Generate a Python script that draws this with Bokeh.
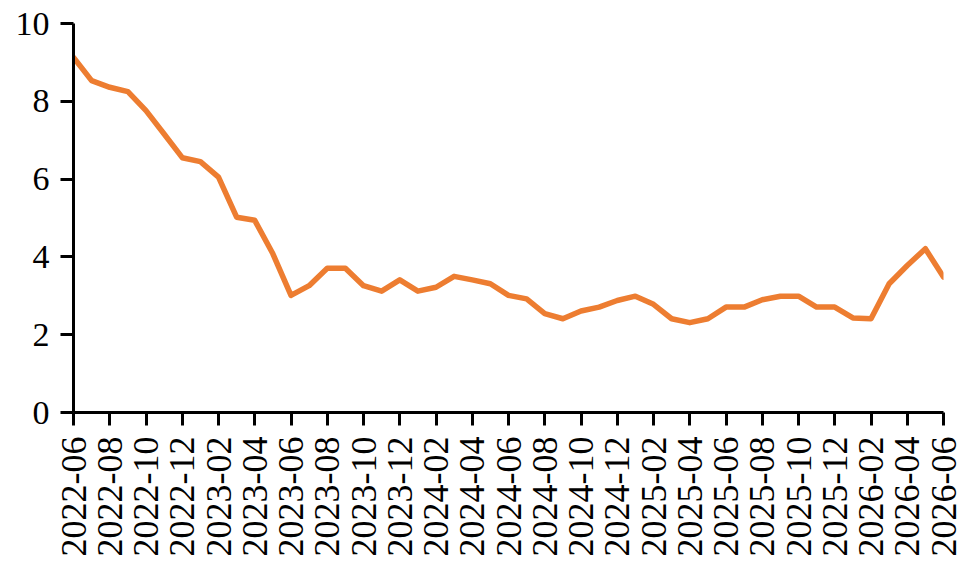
import math
from bokeh.plotting import figure
from bokeh.models import Range1d, FixedTicker
from bokeh.embed import file_html
from bokeh.resources import INLINE

# Monthly series 2022-06 .. 2026-06
months = [
    "2022-06", "2022-07", "2022-08", "2022-09", "2022-10", "2022-11", "2022-12",
    "2023-01", "2023-02", "2023-03", "2023-04", "2023-05", "2023-06", "2023-07",
    "2023-08", "2023-09", "2023-10", "2023-11", "2023-12", "2024-01", "2024-02",
    "2024-03", "2024-04", "2024-05", "2024-06", "2024-07", "2024-08", "2024-09",
    "2024-10", "2024-11", "2024-12", "2025-01", "2025-02", "2025-03", "2025-04",
    "2025-05", "2025-06", "2025-07", "2025-08", "2025-09", "2025-10", "2025-11",
    "2025-12", "2026-01", "2026-02", "2026-03", "2026-04", "2026-05", "2026-06",
]
values = [
    9.13, 8.53, 8.36, 8.25, 7.76, 7.16, 6.55,
    6.45, 6.05, 5.02, 4.94, 4.08, 3.01, 3.26,
    3.71, 3.71, 3.26, 3.12, 3.41, 3.12, 3.22,
    3.50, 3.41, 3.31, 3.01, 2.92, 2.54, 2.41,
    2.61, 2.71, 2.88, 2.99, 2.78, 2.41, 2.31,
    2.41, 2.71, 2.71, 2.90, 2.99, 2.99, 2.71,
    2.71, 2.43, 2.41, 3.31, 3.78, 4.21, 3.48,
]
y_ticks = [0, 2, 4, 6, 8, 10]

x = list(range(len(months)))
label_idx = x[::2]

FONT = "'Liberation Serif', 'Times New Roman', Times, serif"

p = figure(width=966, height=564, output_backend="svg", toolbar_location=None,
           x_range=Range1d(0, len(months) - 1), y_range=Range1d(0, 10),
           min_border_left=73, min_border_right=23, min_border_top=23,
           min_border_bottom=152)
p.outline_line_color = None
p.grid.grid_line_color = None
p.background_fill_color = "white"
p.border_fill_color = "white"

p.line(x, values, line_color="#ED7D31", line_width=5.5, line_join="round", line_cap="round")

p.xaxis.ticker = FixedTicker(ticks=label_idx)
p.xaxis.major_label_overrides = {i: months[i] for i in label_idx}
p.xaxis.major_label_orientation = math.pi / 2
p.yaxis.ticker = FixedTicker(ticks=y_ticks)

for ax in (p.xaxis[0], p.yaxis[0]):
    ax.axis_line_color = "black"
    ax.axis_line_width = 3
    ax.major_tick_line_color = "black"
    ax.major_tick_line_width = 3
    ax.major_tick_out = 13
    ax.major_tick_in = 0
    ax.minor_tick_line_color = None
    ax.major_label_text_font = FONT
    ax.major_label_text_color = "black"
    ax.major_label_standoff = 11

p.yaxis.major_label_text_font_size = "34px"
p.xaxis.major_label_text_font_size = "36px"

open("out.html", "w").write(file_html(p, INLINE))
